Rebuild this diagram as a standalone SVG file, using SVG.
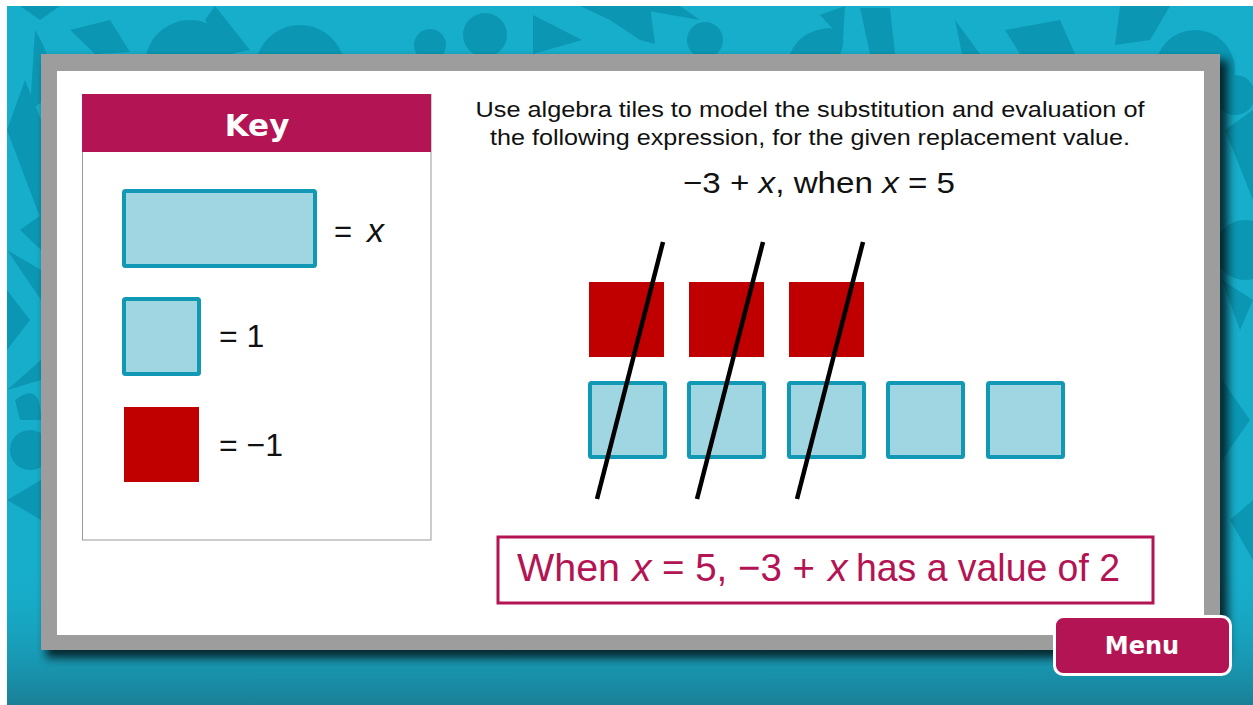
<svg xmlns="http://www.w3.org/2000/svg" width="1253" height="705" viewBox="0 0 1253 705">
<defs>
<style>
.pat{fill:#0b97b3;}
.utile{fill:#a0d6e2;stroke:#1198b4;stroke-width:4;}
.ntile{fill:#c00000;}
.slash{stroke:#000;stroke-width:4.5;stroke-linecap:butt;}
.narrow{font-family:"Liberation Sans Narrow","Liberation Sans",Arial,sans-serif;}
.sans{font-family:"Liberation Sans",Arial,sans-serif;}
.heavy{font-family:"DejaVu Sans","Liberation Sans",sans-serif;font-weight:bold;fill:#fff;}
.res{font-family:"Liberation Sans Narrow","Liberation Sans",Arial,sans-serif;font-size:39px;fill:#b31453;}
</style>
<linearGradient id="bot" x1="0" y1="0" x2="0" y2="1">
<stop offset="0" stop-color="#17aecb" stop-opacity="0"/>
<stop offset="1" stop-color="#1a7f96" stop-opacity="1"/>
</linearGradient>
<filter id="sh" x="-5%" y="-5%" width="115%" height="120%">
<feGaussianBlur stdDeviation="5"/>
</filter>
<clipPath id="bgclip"><rect x="7" y="6" width="1246" height="699"/></clipPath>
</defs>
<rect width="1253" height="705" fill="#ffffff"/>
<g id="background" clip-path="url(#bgclip)">
<rect x="7" y="6" width="1246" height="699" fill="#17aecb"/>
<path class="pat" d="M40 20 L60 6 L20 6 Z"/>
<path class="pat" d="M35 30 Q60 70 45 100 L30 110 Z"/>
<path class="pat" d="M70 30 L110 20 L130 52 L95 54 Z"/>
<circle class="pat" cx="190" cy="65" r="45"/>
<path class="pat" d="M215 6 L250 50 L230 54 L205 20 Z"/>
<circle class="pat" cx="300" cy="70" r="45"/>
<circle class="pat" cx="430" cy="45" r="16"/>
<circle class="pat" cx="485" cy="35" r="22"/>
<path class="pat" d="M533 15 L582 40 L533 54 Z"/>
<path class="pat" d="M580 6 L650 6 L655 44 L640 40 L610 20 Z"/>
<path class="pat" d="M620 6 L680 6 L700 20 Z"/>
<circle class="pat" cx="705" cy="40" r="18"/>
<path class="pat" d="M790 54 Q800 30 830 28 Q850 35 840 54 Z"/>
<path class="pat" d="M820 15 L845 6 L843 40 Z"/>
<path class="pat" d="M860 8 L890 8 L895 54 L870 54 Z"/>
<path class="pat" d="M955 20 L980 54 L962 54 Z"/>
<path class="pat" d="M1005 30 L1060 20 L1075 54 L1020 54 Z"/>
<path class="pat" d="M1120 6 L1170 6 L1150 40 L1115 45 Z"/>
<circle class="pat" cx="1195" cy="70" r="40"/>
<circle class="pat" cx="1235" cy="95" r="20"/>
<path class="pat" d="M1225 130 L1253 110 L1253 200 Z"/>
<circle class="pat" cx="1245" cy="250" r="30"/>
<path class="pat" d="M1222 280 L1253 300 L1240 330 Z"/>
<path class="pat" d="M1222 380 L1250 420 L1222 460 Z"/>
<path class="pat" d="M1230 520 L1253 500 L1253 560 Z"/>
<path class="pat" d="M7 130 L25 80 L41 120 L41 220 Z"/>
<path class="pat" d="M30 170 Q45 150 41 200 Z"/>
<path class="pat" d="M7 250 L41 270 L41 300 Z"/>
<path class="pat" d="M20 230 L41 215 L41 250 Z"/>
<path class="pat" d="M7 290 L30 320 L7 350 Z"/>
<path class="pat" d="M15 400 Q41 380 41 420 L20 420 Z"/>
<path class="pat" d="M7 390 L41 360 L41 380 Z"/>
<circle class="pat" cx="30" cy="450" r="20"/>
<path class="pat" d="M7 500 L41 480 L41 520 Z"/>
<rect x="7" y="560" width="1246" height="145" fill="url(#bot)"/>
</g>
<g id="frame">
<rect x="46" y="60" width="1182" height="598" fill="#000" opacity="0.75" filter="url(#sh)"/>
<rect x="41" y="54" width="1179" height="596" fill="#9c9d9c"/>
<rect x="57" y="71" width="1147" height="564" fill="#ffffff"/>
</g>
<g id="key">
<rect x="82.5" y="94.5" width="348.5" height="445.5" fill="#fff" stroke="#999" stroke-width="1"/>
<rect x="82" y="94" width="349" height="58" fill="#b31453"/>
<text x="257" y="136" text-anchor="middle" class="heavy" font-size="31">Key</text>
<g id="key-x">
<rect class="utile" x="124" y="191" width="191" height="75" rx="1.5"/>
<text x="334" y="242" class="sans" font-size="31" fill="#111">=</text>
<text x="367" y="242" class="sans" font-size="34" font-style="italic" fill="#111">x</text>
</g>
<g id="key-one">
<rect class="utile" x="124" y="299" width="75" height="75" rx="1.5"/>
<text x="219" y="347" class="sans" font-size="32" fill="#111">= 1</text>
</g>
<g id="key-neg">
<rect class="ntile" x="124" y="407" width="75" height="75"/>
<text x="219" y="456" class="sans" font-size="32" fill="#111">= −1</text>
</g>
</g>
<g id="instructions">
<text x="810" y="117" text-anchor="middle" class="narrow" font-size="22" fill="#111" textLength="669" lengthAdjust="spacingAndGlyphs">Use algebra tiles to model the substitution and evaluation of</text>
<text x="810" y="145" text-anchor="middle" class="narrow" font-size="22" fill="#111" textLength="640" lengthAdjust="spacingAndGlyphs">the following expression, for the given replacement value.</text>
<text x="819" y="193" text-anchor="middle" class="narrow" font-size="30" fill="#111" textLength="272" lengthAdjust="spacingAndGlyphs">−3 + <tspan font-style="italic">x</tspan>, when <tspan font-style="italic">x</tspan> = 5</text>
</g>
<g id="tiles">
<rect class="ntile" x="589" y="282" width="75" height="75"/>
<rect class="ntile" x="689" y="282" width="75" height="75"/>
<rect class="ntile" x="789" y="282" width="75" height="75"/>
<rect class="utile" x="590" y="383" width="75" height="74" rx="1.5"/>
<rect class="utile" x="689" y="383" width="75" height="74" rx="1.5"/>
<rect class="utile" x="789" y="383" width="75" height="74" rx="1.5"/>
<rect class="utile" x="888" y="383" width="75" height="74" rx="1.5"/>
<rect class="utile" x="988" y="383" width="75" height="74" rx="1.5"/>
</g>
<g id="connectors">
<line class="slash" x1="663" y1="242" x2="597" y2="499"/>
<line class="slash" x1="763" y1="242" x2="697" y2="499"/>
<line class="slash" x1="863" y1="242" x2="797" y2="499"/>
</g>
<g id="result">
<rect x="498" y="537" width="655" height="66" fill="#fff" stroke="#b31453" stroke-width="3"/>
<text x="517" y="581" class="res" textLength="103" lengthAdjust="spacingAndGlyphs">When</text>
<text x="632" y="581" class="res" font-style="italic">x</text>
<text x="662" y="581" class="res" textLength="153" lengthAdjust="spacingAndGlyphs">= 5, −3 +</text>
<text x="828" y="581" class="res" font-style="italic">x</text>
<text x="856" y="581" class="res" textLength="264" lengthAdjust="spacingAndGlyphs">has a value of 2</text>
</g>
<g id="menu">
<rect x="1054.5" y="616.5" width="176" height="58" rx="9" fill="#b31453" stroke="#fff" stroke-width="3"/>
<text x="1142" y="654" text-anchor="middle" class="heavy" font-size="24">Menu</text>
</g>
</svg>
